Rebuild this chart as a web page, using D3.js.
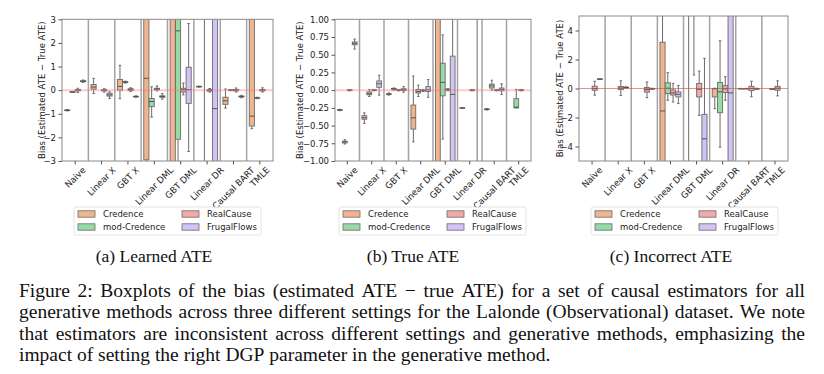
<!DOCTYPE html>
<html>
<head>
<meta charset="utf-8">
<script src="https://cdn.jsdelivr.net/npm/d3@7"></script>
<style>
  body { margin: 0; background: #fff; }
  svg { display: block; }
</style>
</head>
<body>
<svg id="fig" width="824" height="374"></svg>
<script>
const estimators = ["Naive", "Linear X", "GBT X", "Linear DML", "GBT DML", "Linear DR", "Causal BART", "TMLE"];
const methods = ["Credence", "mod-Credence", "RealCause", "FrugalFlows"];
const methodColors = ["#f0b58e", "#98daa6", "#f2a9a8", "#d2c2f6"];

// one row per estimator, one entry per method: [low whisker, q1, median, q3, high whisker]
const learnedATE = [
  [[-0.88, -0.86, -0.85, -0.84, -0.82], [-0.08, -0.07, -0.07, -0.07, -0.06], [-0.1, -0.03, 0, 0.03, 0.08], [0.33, 0.36, 0.38, 0.4, 0.43]],
  [[-0.14, 0.04, 0.13, 0.24, 0.5], null, [-0.08, -0.03, 0, 0.02, 0.06], [-0.35, -0.25, -0.2, -0.13, -0.07]],
  [[-0.36, 0, 0.16, 0.45, 1.05], [0.3, 0.32, 0.34, 0.36, 0.38], [-0.06, -0.01, 0.03, 0.06, 0.1], [-0.3, -0.28, -0.27, -0.26, -0.24]],
  [[-6, -2.95, 0.5, 8, 15], [-1.14, -0.7, -0.48, -0.35, 0.14], [-0.03, 0.02, 0.05, 0.08, 0.18], [-0.38, -0.3, -0.27, -0.24, -0.15]],
  [[-9, -5, -4, 5, 9], [-5, -2.08, 2.51, 4.5, 8], [-0.2, -0.08, 0.02, 0.08, 0.3], [-2.6, -0.56, 0.02, 0.97, 2.82]],
  [[0.13, 0.14, 0.15, 0.16, 0.17], [-6, 4, 6, 8, 10], [-0.08, -0.04, 0, 0.03, 0.07], [-10, -5, -0.78, 6, 12]],
  [[-0.76, -0.6, -0.45, -0.3, 0.05], [-0.02, -0.01, 0, 0.01, 0.02], [-0.08, -0.03, 0, 0.03, 0.09], [-0.32, -0.29, -0.27, -0.25, -0.22]],
  [[-1.63, -1.52, -1.1, 4, 8], [-0.36, -0.34, -0.33, -0.32, -0.3], [-0.08, -0.03, 0, 0.03, 0.1], null]
];

const trueATE = [
  [[-0.29, -0.285, -0.28, -0.275, -0.27], [-0.76, -0.745, -0.73, -0.72, -0.7], [-0.01, -0.005, 0, 0.005, 0.01], [0.58, 0.64, 0.66, 0.68, 0.72]],
  [[-0.47, -0.41, -0.39, -0.36, -0.32], [-0.09, -0.065, -0.05, -0.025, 0.01], [-0.01, 0, 0, 0.005, 0.01], [-0.07, 0.04, 0.09, 0.13, 0.21]],
  [[-0.07, -0.06, -0.055, -0.05, -0.04], [0, 0.01, 0.02, 0.025, 0.03], [-0.01, 0, 0, 0.005, 0.01], [-0.03, -0.005, 0.005, 0.02, 0.05]],
  [[-0.73, -0.55, -0.39, -0.21, 0.2], [-0.09, -0.04, -0.02, 0.01, 0.07], [-0.02, -0.01, -0.005, 0, 0.01], [-0.1, -0.02, 0.005, 0.05, 0.15]],
  [[-4, -2, 1.5, 3, 5], [-0.69, -0.08, 0.11, 0.38, 0.78], [-0.01, 0, 0.01, 0.015, 0.02], [-3, -1.5, -0.06, 0.48, 1.2]],
  [[-0.255, -0.252, -0.25, -0.248, -0.245], null, [-0.01, -0.005, 0, 0.005, 0.01], [-1.5, 1.5, 2, 3, 4]],
  [[-0.28, -0.275, -0.27, -0.265, -0.26], [0, 0.03, 0.06, 0.085, 0.14], [-0.01, 0, 0, 0.005, 0.01], [-0.06, -0.01, 0.01, 0.03, 0.09]],
  [null, [-0.25, -0.25, -0.24, -0.12, 0.01], [-0.01, 0, 0, 0.005, 0.01], null]
];

const incorrectATE = [
  [null, null, [-0.46, -0.12, 0, 0.16, 0.5], [0.62, 0.64, 0.65, 0.66, 0.68]],
  [null, null, [-0.48, -0.08, 0.03, 0.14, 0.53], [0.03, 0.05, 0.07, 0.09, 0.12]],
  [null, null, [-0.63, -0.25, -0.08, 0.07, 0.45], [-0.05, -0.03, -0.02, 0, 0.02]],
  [[-9, -6, -1.55, 3.19, 7], [-0.81, -0.35, 0.02, 0.39, 1.09], [-0.93, -0.45, -0.3, -0.1, 0.35], [-1.04, -0.58, -0.4, -0.23, 0.2]],
  [[-7, 5.5, 7, 9, 11], [0.93, 5.5, 7, 9, 12], [-1.85, -0.58, -0.05, 0.35, 1.2], [-8, -6, -3.47, -1.78, 2.08]],
  [[-1.39, -0.58, -0.02, 0, 0.02], [-4.05, -1.67, -0.23, 0.42, 3.29], [-0.81, -0.28, -0.02, 0.2, 0.81], [-12, -8, -0.3, 8, 12]],
  [[-0.01, 0, 0, 0, 0.01], [-0.01, 0, 0, 0, 0.01], [-0.57, -0.15, 0, 0.15, 0.5], [-0.06, -0.04, -0.02, 0, 0.02]],
  [null, [-0.03, -0.02, -0.02, -0.02, -0.01], [-0.51, -0.12, 0.02, 0.15, 0.53], null]
];

const ticksA = [-3, -2, -1, 0, 1, 2, 3];
const ticksB = [-1, -0.75, -0.5, -0.25, 0, 0.25, 0.5, 0.75, 1];
const ticksC = [-4, -2, 0, 2, 4];

const subTitles = ["(a) Learned ATE", "(b) True ATE", "(c) Incorrect ATE"];
const yTitle = "Bias (Estimated ATE \u2212 True ATE)";
const captionLines = [
  "Figure 2: Boxplots of the bias (estimated ATE \u2212 true ATE) for a set of causal estimators for all",
  "generative methods across three different settings for the Lalonde (Observational) dataset. We note",
  "that estimators are inconsistent across different settings and generative methods, emphasizing the",
  "impact of setting the right DGP parameter in the generative method."
];

const panels = [
  { data: learnedATE, ticks: ticksA, fmt: d3.format("d"), domain: [-3, 3],
    left: 62, right: 273, top: 19.3, bottom: 161, labelX: 42, legendX: 74, titleX: 154,
    zero: { color: "#f08080", width: 2, opacity: 0.4 } },
  { data: trueATE, ticks: ticksB, fmt: d3.format(".2f"), domain: [-1, 1],
    left: 335, right: 531, top: 19.3, bottom: 161, labelX: 300, legendX: 339, titleX: 413,
    zero: { color: "#f08080", width: 2, opacity: 0.4 } },
  { data: incorrectATE, ticks: ticksC, fmt: d3.format("d"), domain: [-5, 5],
    left: 579, right: 788, top: 16, bottom: 161, labelX: 560, legendX: 591, titleX: 671,
    zero: { color: "#e04848", width: 0.9, opacity: 0.7 } }
];

const svg = d3.select("#fig");
const font = "DejaVu Sans";
const edge = "#6b6b6b";

panels.forEach(function (p, pi) {
  const g = svg.append("g");

  const x = d3.scaleBand().domain(estimators).range([p.left, p.right]);
  const bw = x.bandwidth();
  const xIn = d3.scaleBand().domain(methods).range([0.1 * bw, 0.9 * bw]).paddingInner(0.03);
  const y = d3.scaleLinear().domain(p.domain).range([p.bottom, p.top]);

  const clipId = "clip" + pi;
  g.append("clipPath").attr("id", clipId)
    .append("rect")
    .attr("x", p.left).attr("y", p.top)
    .attr("width", p.right - p.left).attr("height", p.bottom - p.top);

  const plot = g.append("g").attr("clip-path", "url(#" + clipId + ")");

  // separators between estimator groups
  plot.selectAll("line.sep")
    .data(estimators.slice(1))
    .enter()
    .append("line")
    .attr("x1", d => x(d)).attr("x2", d => x(d))
    .attr("y1", p.top).attr("y2", p.bottom)
    .attr("stroke", "#a3a3a3").attr("stroke-width", 1.5);

  // boxes
  const boxes = [];
  p.data.forEach(function (row, i) {
    row.forEach(function (s, k) {
      if (s) boxes.push({ est: estimators[i], m: methods[k], k: k, s: s });
    });
  });

  const bg = plot.selectAll("g.box")
    .data(boxes)
    .enter()
    .append("g")
    .attr("class", "box");

  const cx = d => x(d.est) + xIn(d.m) + xIn.bandwidth() / 2;
  const hw = xIn.bandwidth() / 2;

  bg.append("line")
    .attr("x1", cx).attr("x2", cx)
    .attr("y1", d => y(d.s[0])).attr("y2", d => y(d.s[1]))
    .attr("stroke", edge).attr("stroke-width", 1);
  bg.append("line")
    .attr("x1", cx).attr("x2", cx)
    .attr("y1", d => y(d.s[3])).attr("y2", d => y(d.s[4]))
    .attr("stroke", edge).attr("stroke-width", 1);
  [0, 4].forEach(function (j) {
    bg.append("line")
      .attr("x1", d => cx(d) - hw / 2).attr("x2", d => cx(d) + hw / 2)
      .attr("y1", d => y(d.s[j])).attr("y2", d => y(d.s[j]))
      .attr("stroke", edge).attr("stroke-width", 1);
  });
  bg.append("rect")
    .attr("x", d => cx(d) - hw)
    .attr("width", hw * 2)
    .attr("y", d => y(d.s[3]))
    .attr("height", d => Math.max(0.6, y(d.s[1]) - y(d.s[3])))
    .attr("fill", d => methodColors[d.k])
    .attr("stroke", edge).attr("stroke-width", 0.9);
  bg.append("line")
    .attr("x1", d => cx(d) - hw).attr("x2", d => cx(d) + hw)
    .attr("y1", d => y(d.s[2])).attr("y2", d => y(d.s[2]))
    .attr("stroke", "#555").attr("stroke-width", 1);

  // zero reference line
  plot.append("line")
    .attr("x1", p.left).attr("x2", p.right)
    .attr("y1", y(0)).attr("y2", y(0))
    .attr("stroke", p.zero.color)
    .attr("stroke-width", p.zero.width)
    .attr("stroke-opacity", p.zero.opacity);

  // frame
  g.append("rect")
    .attr("x", p.left).attr("y", p.top)
    .attr("width", p.right - p.left).attr("height", p.bottom - p.top)
    .attr("fill", "none").attr("stroke", "#8a8a8a").attr("stroke-width", 1);

  // y axis
  const ya = g.append("g")
    .attr("transform", "translate(" + p.left + ",0)")
    .call(d3.axisLeft(y).tickValues(p.ticks).tickFormat(p.fmt).tickSize(3.5).tickPadding(2.5));
  ya.select(".domain").remove();
  ya.selectAll("line").attr("stroke", "#555");
  ya.selectAll("text").attr("font-family", font).attr("font-size", 8.5).attr("fill", "#222");

  // x axis
  const xa = g.append("g")
    .attr("transform", "translate(0," + p.bottom + ")")
    .call(d3.axisBottom(x).tickSize(3.5));
  xa.select(".domain").remove();
  xa.selectAll("line").attr("stroke", "#555");
  xa.selectAll("text")
    .attr("font-family", font).attr("font-size", 8.8).attr("fill", "#222")
    .attr("text-anchor", "middle")
    .attr("y", 0).attr("dy", "0.35em")
    .attr("transform", function () {
      const L = this.getComputedTextLength();
      const off = 5 + (L + 7) * 0.7071 / 2;
      return "translate(0," + off + ") rotate(-45)";
    });

  // y title
  g.append("text")
    .attr("transform", "translate(" + p.labelX + "," + ((p.top + p.bottom) / 2) + ") rotate(-90)")
    .attr("text-anchor", "middle")
    .attr("dy", "0.35em")
    .attr("font-family", font).attr("font-size", 8.5).attr("fill", "#222")
    .text(yTitle);

  // legend
  const lg = g.append("g").attr("transform", "translate(" + p.legendX + ",207)");
  lg.append("rect")
    .attr("width", 187).attr("height", 28).attr("rx", 2)
    .attr("fill", "#fff").attr("fill-opacity", 0.85)
    .attr("stroke", "#dcdcdc").attr("stroke-width", 0.8);
  const items = lg.selectAll("g.item")
    .data(methods)
    .enter()
    .append("g")
    .attr("transform", (d, i) => "translate(" + (4 + Math.floor(i / 2) * 104) + "," + (7 + (i % 2) * 13) + ")");
  items.append("rect")
    .attr("x", 0).attr("y", -3.2)
    .attr("width", 17).attr("height", 6.4)
    .attr("fill", (d, i) => methodColors[i])
    .attr("stroke", edge).attr("stroke-width", 0.8);
  items.append("text")
    .attr("x", 25).attr("dy", "0.35em")
    .attr("font-family", font).attr("font-size", 8.5).attr("fill", "#222")
    .text(d => d);

  // sub caption
  g.append("text")
    .attr("x", p.titleX).attr("y", 261.5)
    .attr("text-anchor", "middle")
    .attr("font-family", "Liberation Serif").attr("font-size", 17.5).attr("fill", "#111")
    .text(subTitles[pi]);
});

// figure caption, justified
const capLeft = 19, capRight = 805;
const capBase = [296.5, 318, 339.5, 361];
captionLines.forEach(function (line, li) {
  const words = line.split(" ");
  const t = svg.append("text")
    .attr("y", capBase[li])
    .attr("font-family", "Liberation Serif").attr("font-size", 19.5).attr("fill", "#111");
  const spans = words.map(w => t.append("tspan").text(w));
  const widths = spans.map(s => s.node().getComputedTextLength());
  const total = d3.sum(widths);
  const last = li === captionLines.length - 1;
  const gap = last ? 19.5 * 0.25 : (capRight - capLeft - total) / (words.length - 1);
  let xPos = capLeft;
  spans.forEach(function (s, i) {
    s.attr("x", xPos);
    xPos += widths[i] + gap;
  });
});
</script>
</body>
</html>
